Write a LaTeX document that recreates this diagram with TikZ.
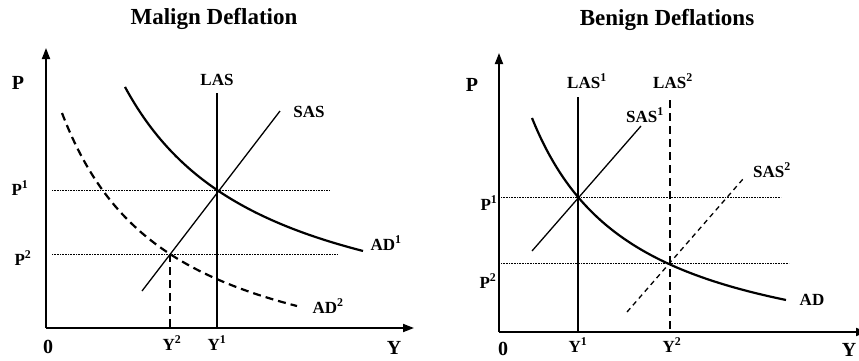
\documentclass[tikz,border=0pt]{standalone}
\usepackage{fontspec}
\setmainfont{Liberation Serif}
\usetikzlibrary{arrows.meta}
\begin{document}
\begin{tikzpicture}[x=1pt,y=-1pt,
  axisline/.style={line width=1.8pt,-{Triangle[length=11pt,width=8pt]}},
  thickcurve/.style={line width=2.2pt},
  thickdash/.style={line width=2.2pt,dash pattern=on 8pt off 5pt},
  thinline/.style={line width=1.3pt},
  thindash/.style={line width=1.3pt,dash pattern=on 5pt off 4pt},
  dotline/.style={line width=0.7pt,dash pattern=on 0.8pt off 0.8pt},
  lab/.style={font=\bfseries\fontsize{17}{17}\selectfont,anchor=base,inner sep=0pt},
  biglab/.style={font=\bfseries\fontsize{20}{20}\selectfont,anchor=base,inner sep=0pt},
  titlelab/.style={font=\bfseries\fontsize{23}{23}\selectfont,anchor=base,inner sep=0pt}]
\clip (0,0) rectangle (859,360);

% ---------------- Left panel ----------------
\node[titlelab] (t1) at (214,24) {Malign Deflation};
\coordinate (o1) at (46,328);
\coordinate (ytip1) at (46,48);
\coordinate (xtip1) at (414,328);
\draw[axisline] (o1) -- (ytip1);
\draw[axisline] (o1) -- (xtip1);
\node[biglab] (p1) at (18,89) {P};
\node[biglab] (z1) at (48,353) {0};
\node[biglab] (yy1) at (394,354) {Y};

\coordinate (p1a) at (52,190);  \coordinate (p1b) at (330,190);
\coordinate (p2a) at (52,254);  \coordinate (p2b) at (338,254);
\draw[dotline] (p1a) -- (p1b);
\draw[dotline] (p2a) -- (p2b);

\coordinate (lastop) at (217,93); \coordinate (lasbot) at (217,328);
\draw[thickcurve] (lastop) -- (lasbot);
\coordinate (sasa) at (142,291); \coordinate (sasb) at (280,111);
\draw[thinline] (sasa) -- (sasb);
\coordinate (y2top) at (170,254); \coordinate (y2bot) at (170,328);
\draw[thickdash] (y2top) -- (y2bot);

% AD1 : y = 348.6 - 37075/(x+16.7)
\draw[thickcurve] plot[domain=125:363,samples=80,smooth] (\x,{348.6-370.75*(100/(\x+16.7))});
% AD2 : y = 394.2 - 30194/(x+45.38)
\draw[thickdash] plot[domain=62:297,samples=80,smooth] (\x,{394.2-301.94*(100/(\x+45.38))});

\node[lab] (las) at (217,85) {LAS};
\node[lab] (sas) at (309,117) {SAS};
\node[lab] (lp1) at (20,195) {P\textsuperscript{1}};
\node[lab] (lp2) at (23,265) {P\textsuperscript{2}};
\node[lab] (ad1) at (386,250) {AD\textsuperscript{1}};
\node[lab] (ad2) at (328,313) {AD\textsuperscript{2}};
\node[lab] (ly2) at (172,350) {Y\textsuperscript{2}};
\node[lab] (ly1) at (217,350) {Y\textsuperscript{1}};

% ---------------- Right panel ----------------
\node[titlelab] (t2) at (667,25) {Benign Deflations};
\coordinate (o2) at (499,332);
\coordinate (ytip2) at (499,53);
\coordinate (xtip2) at (867,332);
\draw[axisline] (o2) -- (ytip2);
\draw[axisline] (o2) -- (xtip2);
\node[biglab] (p2) at (472,91) {P};
\node[biglab] (z2) at (503,355) {0};
\node[biglab] (yy2) at (849,356) {Y};

\coordinate (q1a) at (501,197);  \coordinate (q1b) at (781,197);
\coordinate (q2a) at (501,263);  \coordinate (q2b) at (789,263);
\draw[dotline] (q1a) -- (q1b);
\draw[dotline] (q2a) -- (q2b);

\coordinate (las1top) at (578,97); \coordinate (las1bot) at (578,332);
\draw[thickcurve] (las1top) -- (las1bot);
\coordinate (las2top) at (670,100); \coordinate (las2bot) at (670,332);
\draw[thickdash] (las2top) -- (las2bot);
\coordinate (sas1a) at (532,251); \coordinate (sas1b) at (641,126);
\draw[thinline] (sas1a) -- (sas1b);
\coordinate (sas2a) at (627,312); \coordinate (sas2b) at (743,179);
\draw[thindash] (sas2a) -- (sas2b);

% AD : y = 373.7 - 26313/(x-429.1)
\draw[thickcurve] plot[domain=532:786,samples=80,smooth] (\x,{373.7-263.13*(100/(\x-429.1))});

\node[lab] (las1) at (587,88) {LAS\textsuperscript{1}};
\node[lab] (las2) at (673,88) {LAS\textsuperscript{2}};
\node[lab] (sas1) at (645,122) {SAS\textsuperscript{1}};
\node[lab] (sas2) at (772,177) {SAS\textsuperscript{2}};
\node[lab] (ad) at (812,305) {AD};
\node[lab] (rp1) at (489,210) {P\textsuperscript{1}};
\node[lab] (rp2) at (488,288) {P\textsuperscript{2}};
\node[lab] (ry1) at (578,352) {Y\textsuperscript{1}};
\node[lab] (ry2) at (672,352) {Y\textsuperscript{2}};
\end{tikzpicture}
\end{document}
